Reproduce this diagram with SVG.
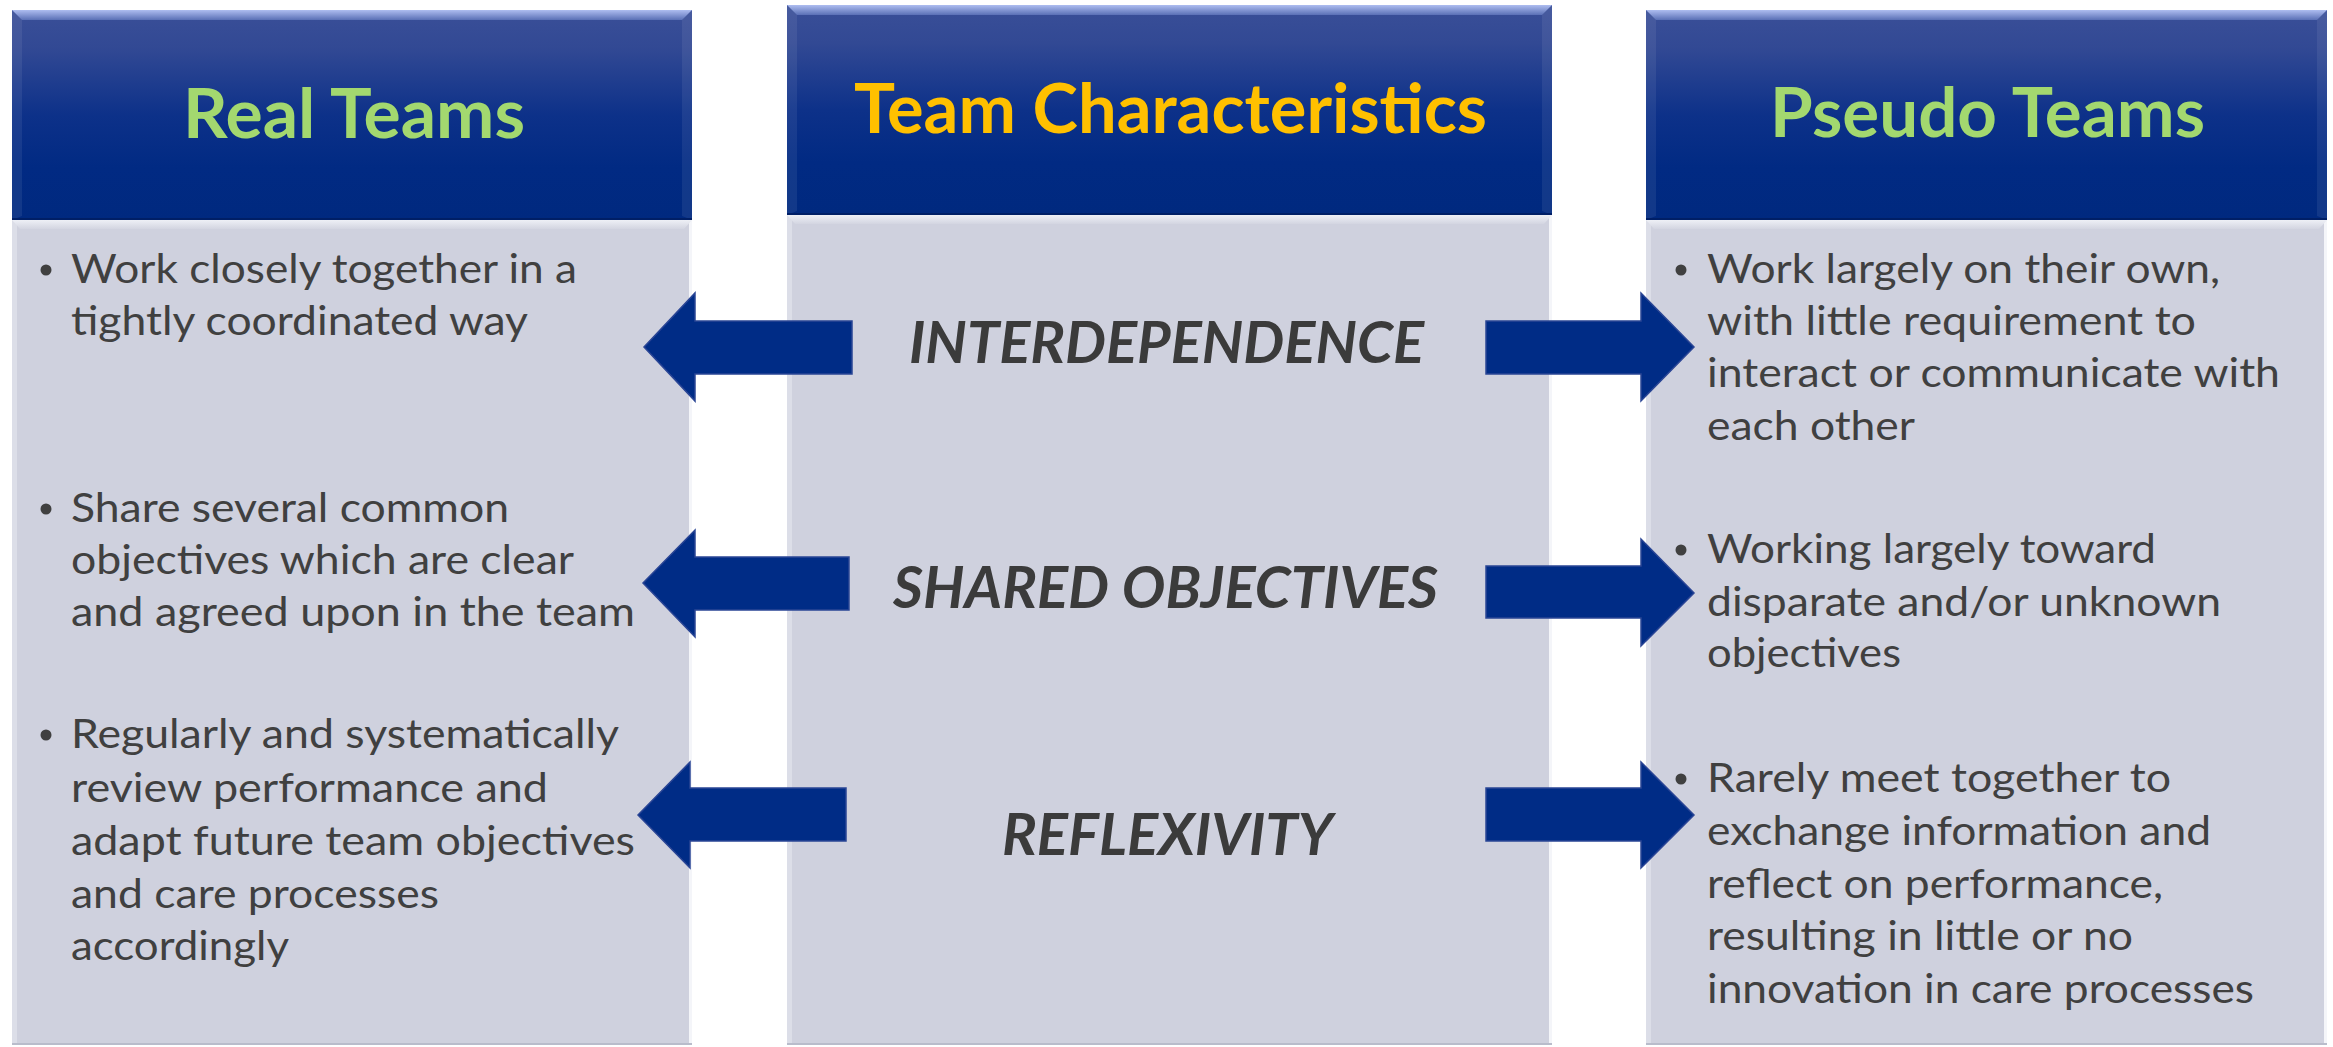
<svg xmlns="http://www.w3.org/2000/svg" width="2333" height="1047" viewBox="0 0 2333 1047">
  <defs>
    <!-- header panel: navy with a lighter glossy top -->
    <linearGradient id="hdrFill" x1="0" y1="0" x2="0" y2="1">
      <stop offset="0" stop-color="#3a4f98"/>
      <stop offset="0.18" stop-color="#324994"/>
      <stop offset="0.5" stop-color="#0d3189"/>
      <stop offset="0.75" stop-color="#012a83"/>
      <stop offset="1" stop-color="#00297f"/>
    </linearGradient>
    <linearGradient id="hdrBevelTop" x1="0" y1="0" x2="0" y2="1">
      <stop offset="0" stop-color="#aebdf0"/>
      <stop offset="1" stop-color="#5a70b6"/>
    </linearGradient>
    <linearGradient id="bodyBevelTop" x1="0" y1="0" x2="0" y2="1">
      <stop offset="0" stop-color="#eef0f6"/>
      <stop offset="1" stop-color="#d3d5e1"/>
    </linearGradient>
  </defs>
  <style>
    .hdr { fill: url(#hdrFill); }
    .hdr-bevel-top { fill: url(#hdrBevelTop); }
    .hdr-side { fill: #ffffff; fill-opacity: 0.07; }
    .hdr-bottom { fill: #001f66; }
    .body { fill: #cfd1de; }
    .body-bevel-top { fill: url(#bodyBevelTop); }
    .body-side { fill: #dcdee8; }
    .body-edge { fill: #f4f5f9; }
    .body-bottom { fill: #b9bccb; }
    .title { font-family: "Lato", "Liberation Sans", sans-serif; font-weight: 700; font-size: 68px; }
    .green { fill: #a3d86f; }
    .gold { fill: #ffc000; }
    .item { font-family: "Lato", "Liberation Sans", sans-serif; font-size: 40px; fill: #404040; }
    .bullet { fill: #404040; }
    .label { font-family: "Lato", "Liberation Sans", sans-serif; font-weight: 700; font-style: italic; font-size: 57px; fill: #3b3b3b; }
    .arrow { fill: #002c86; stroke: #2a4595; stroke-width: 1.5; stroke-linejoin: miter; }
  </style>

  <rect x="0" y="0" width="2333" height="1047" fill="#ffffff"/>

  <!-- Left column: Real Teams -->
  <g id="col-real">
    <rect class="body" x="12" y="220" width="680" height="825"/>
    <rect class="body-side" x="12" y="220" width="5" height="825"/>
    <rect class="body-edge" x="689" y="220" width="3" height="825"/>
    <polygon class="body-bevel-top" points="12,220 692,220 684,229 20,229"/>
    <rect class="body-bottom" x="12" y="1043" width="680" height="2"/>
    <rect class="hdr" x="12" y="10" width="680" height="210"/>
    <polygon class="hdr-bevel-top" points="12,10 692,10 682,20 22,20"/>
    <polygon class="hdr-side" points="12,10 22,20 22,216 12,220"/>
    <polygon class="hdr-side" points="692,10 682,20 682,216 692,220"/>
    <rect class="hdr-bottom" x="12" y="218" width="680" height="2"/>
    <text class="title green" x="183" y="138" textLength="342" lengthAdjust="spacingAndGlyphs">Real Teams</text>

    <circle class="bullet" cx="46" cy="270" r="5.5"/>
    <text class="item" x="71" y="283" textLength="506" lengthAdjust="spacingAndGlyphs">Work closely together in a</text>
    <text class="item" x="71" y="335" textLength="457" lengthAdjust="spacingAndGlyphs">tightly coordinated way</text>

    <circle class="bullet" cx="46" cy="509" r="5.5"/>
    <text class="item" x="71" y="522" textLength="438" lengthAdjust="spacingAndGlyphs">Share several common</text>
    <text class="item" x="71" y="574" textLength="503" lengthAdjust="spacingAndGlyphs">objectives which are clear</text>
    <text class="item" x="71" y="626" textLength="564" lengthAdjust="spacingAndGlyphs">and agreed upon in the team</text>

    <circle class="bullet" cx="46" cy="735" r="5.5"/>
    <text class="item" x="71" y="748" textLength="548" lengthAdjust="spacingAndGlyphs">Regularly and systematically</text>
    <text class="item" x="71" y="802" textLength="477" lengthAdjust="spacingAndGlyphs">review performance and</text>
    <text class="item" x="71" y="855" textLength="564" lengthAdjust="spacingAndGlyphs">adapt future team objectives</text>
    <text class="item" x="71" y="908" textLength="368" lengthAdjust="spacingAndGlyphs">and care processes</text>
    <text class="item" x="71" y="960" textLength="218" lengthAdjust="spacingAndGlyphs">accordingly</text>
  </g>

  <!-- Middle column: Team Characteristics -->
  <g id="col-characteristics">
    <rect class="body" x="787" y="215" width="765" height="830"/>
    <rect class="body-side" x="787" y="215" width="5" height="830"/>
    <rect class="body-edge" x="1549" y="215" width="3" height="830"/>
    <polygon class="body-bevel-top" points="787,215 1552,215 1544,224 795,224"/>
    <rect class="body-bottom" x="787" y="1043" width="765" height="2"/>
    <rect class="hdr" x="787" y="5" width="765" height="210"/>
    <polygon class="hdr-bevel-top" points="787,5 1552,5 1542,15 797,15"/>
    <polygon class="hdr-side" points="787,5 797,15 797,211 787,215"/>
    <polygon class="hdr-side" points="1552,5 1542,15 1542,211 1552,215"/>
    <rect class="hdr-bottom" x="787" y="213" width="765" height="2"/>
    <text class="title gold" x="854" y="133" textLength="633" lengthAdjust="spacingAndGlyphs">Team Characteristics</text>

    <text class="label" x="909" y="363" textLength="515" lengthAdjust="spacingAndGlyphs">INTERDEPENDENCE</text>
    <text class="label" x="893" y="608" textLength="545" lengthAdjust="spacingAndGlyphs">SHARED OBJECTIVES</text>
    <text class="label" x="1002" y="855" textLength="331" lengthAdjust="spacingAndGlyphs">REFLEXIVITY</text>
  </g>

  <!-- Right column: Pseudo Teams -->
  <g id="col-pseudo">
    <rect class="body" x="1646" y="220" width="681" height="825"/>
    <rect class="body-side" x="1646" y="220" width="5" height="825"/>
    <rect class="body-edge" x="2324" y="220" width="3" height="825"/>
    <polygon class="body-bevel-top" points="1646,220 2327,220 2319,229 1654,229"/>
    <rect class="body-bottom" x="1646" y="1043" width="681" height="2"/>
    <rect class="hdr" x="1646" y="10" width="681" height="210"/>
    <polygon class="hdr-bevel-top" points="1646,10 2327,10 2317,20 1656,20"/>
    <polygon class="hdr-side" points="1646,10 1656,20 1656,216 1646,220"/>
    <polygon class="hdr-side" points="2327,10 2317,20 2317,216 2327,220"/>
    <rect class="hdr-bottom" x="1646" y="218" width="681" height="2"/>
    <text class="title green" x="1770" y="137" textLength="435" lengthAdjust="spacingAndGlyphs">Pseudo Teams</text>

    <circle class="bullet" cx="1681" cy="270" r="5.5"/>
    <text class="item" x="1707" y="283" textLength="513" lengthAdjust="spacingAndGlyphs">Work largely on their own,</text>
    <text class="item" x="1707" y="335" textLength="489" lengthAdjust="spacingAndGlyphs">with little requirement to</text>
    <text class="item" x="1707" y="387" textLength="573" lengthAdjust="spacingAndGlyphs">interact or communicate with</text>
    <text class="item" x="1707" y="440" textLength="208" lengthAdjust="spacingAndGlyphs">each other</text>

    <circle class="bullet" cx="1681" cy="550" r="5.5"/>
    <text class="item" x="1707" y="563" textLength="449" lengthAdjust="spacingAndGlyphs">Working largely toward</text>
    <text class="item" x="1707" y="616" textLength="514" lengthAdjust="spacingAndGlyphs">disparate and/or unknown</text>
    <text class="item" x="1707" y="667" textLength="194" lengthAdjust="spacingAndGlyphs">objectives</text>

    <circle class="bullet" cx="1681" cy="779" r="5.5"/>
    <text class="item" x="1707" y="792" textLength="464" lengthAdjust="spacingAndGlyphs">Rarely meet together to</text>
    <text class="item" x="1707" y="845" textLength="504" lengthAdjust="spacingAndGlyphs">exchange information and</text>
    <text class="item" x="1707" y="898" textLength="456" lengthAdjust="spacingAndGlyphs">reflect on performance,</text>
    <text class="item" x="1707" y="950" textLength="426" lengthAdjust="spacingAndGlyphs">resulting in little or no</text>
    <text class="item" x="1707" y="1003" textLength="547" lengthAdjust="spacingAndGlyphs">innovation in care processes</text>
  </g>

  <!-- Block arrows from each characteristic out to both team types -->
  <g id="connectors">
    <polygon class="arrow" points="644,347 695,293 695,321 852,321 852,374 695,374 695,401"/>
    <polygon class="arrow" points="1486,321 1641,321 1641,293 1694,347 1641,401 1641,374 1486,374"/>
    <polygon class="arrow" points="643,583 695,530 695,557 849,557 849,610 695,610 695,637"/>
    <polygon class="arrow" points="1486,566 1641,566 1641,539 1694,593 1641,646 1641,618 1486,618"/>
    <polygon class="arrow" points="638,815 690,762 690,788 846,788 846,841 690,841 690,868"/>
    <polygon class="arrow" points="1486,788 1641,788 1641,762 1694,815 1641,868 1641,841 1486,841"/>
  </g>
</svg>
